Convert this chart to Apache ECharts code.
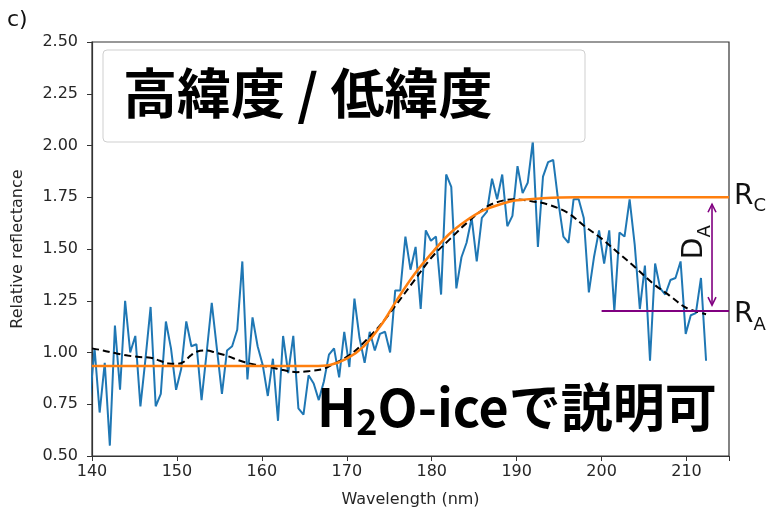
<!DOCTYPE html>
<html><head><meta charset="utf-8">
<script src="https://cdn.jsdelivr.net/npm/echarts@6/dist/echarts.min.js"></script>
<style>html,body{margin:0;padding:0;background:#fff;}#c{width:773px;height:514px;}</style>
</head><body><div id="c"></div>
<script>
// ---------- data ----------
const xTicks = [140, 150, 160, 170, 180, 190, 200, 210];
const xRange = [140, 215];
const yTicks = [0.50, 0.75, 1.00, 1.25, 1.50, 1.75, 2.00, 2.25, 2.50];

// measured spectrum (blue)
const wavelengths = [139.7,
 140.3,140.9,141.5,142.1,142.7,143.3,143.9,144.5,145.1,145.7,
 146.3,146.9,147.5,148.1,148.7,149.3,149.9,150.5,151.1,151.7,
 152.3,152.9,153.5,154.1,154.7,155.3,155.9,156.5,157.1,157.7,
 158.3,158.9,159.5,160.1,160.7,161.3,161.9,162.5,163.1,163.7,
 164.3,164.9,165.5,166.1,166.7,167.3,167.9,168.5,169.1,169.7,
 170.3,170.9,171.5,172.1,172.7,173.3,173.9,174.5,175.1,175.7,
 176.3,176.9,177.5,178.1,178.7,179.3,179.9,180.5,181.1,181.7,
 182.3,182.9,183.5,184.1,184.7,185.3,185.9,186.5,187.1,187.7,
 188.3,188.9,189.5,190.1,190.7,191.3,191.9,192.5,193.1,193.7,
 194.3,194.9,195.5,196.1,196.7,197.3,197.9,198.5,199.1,199.7,
 200.3,200.9,201.5,202.1,202.7,203.3,203.9,204.5,205.1,205.7,
 206.3,206.9,207.5,208.1,208.7,209.3,209.9,210.5,211.1,211.7,
 212.3];
const reflectance = [0.75,
 1.02,0.71,0.95,0.55,1.13,0.82,1.25,1.00,1.08,0.74,
 0.97,1.22,0.74,0.80,1.15,1.02,0.82,0.92,1.15,1.03,
 1.04,0.77,1.00,1.24,1.02,0.80,1.01,1.03,1.11,1.44,
 0.87,1.17,1.03,0.94,0.79,0.97,0.67,1.08,0.90,1.08,
 0.73,0.70,0.89,0.85,0.77,0.86,0.99,1.02,0.88,1.10,
 0.93,1.26,1.07,0.95,1.10,1.01,1.09,1.10,1.00,1.30,
 1.30,1.56,1.40,1.51,1.21,1.59,1.54,1.56,1.28,1.86,
 1.80,1.31,1.46,1.53,1.65,1.44,1.65,1.68,1.84,1.74,
 1.86,1.61,1.66,1.90,1.77,1.82,2.02,1.51,1.85,1.92,
 1.93,1.73,1.56,1.53,1.74,1.74,1.65,1.29,1.46,1.59,
 1.43,1.59,1.20,1.58,1.56,1.74,1.52,1.21,1.42,0.96,
 1.43,1.31,1.28,1.35,1.36,1.44,1.09,1.18,1.19,1.36,
 0.96];

// smoothed spectrum (black dashed)
const smoothX = [140,141.3,142.9,144.2,145.6,146.9,148.0,149.0,150.0,150.8,151.6,152.4,153.5,154.5,155.8,157.8,159.4,160.9,162.5,164.1,165.6,167.2,168.0,170.4,172.3,174.3,175.8,177.8,180.0,182.2,184.1,186.5,188.0,189.6,191.9,193.7,196.0,198.0,200.0,202.0,204.0,206.0,208.0,210.0,212.3];
const smoothY = [1.02,1.01,0.995,0.985,0.978,0.975,0.96,0.947,0.945,0.955,0.985,1.005,1.01,1.0,0.985,0.955,0.94,0.93,0.915,0.905,0.91,0.92,0.935,0.99,1.06,1.15,1.23,1.34,1.46,1.55,1.625,1.705,1.73,1.74,1.73,1.715,1.675,1.61,1.55,1.48,1.41,1.335,1.275,1.215,1.185];

// continuum model (orange)
const fitX = [140,166,168,170,172,174,176,178,180,182,184,186,188,190,193,197,215];
const fitY = [0.935,0.935,0.94,0.97,1.03,1.13,1.26,1.38,1.48,1.57,1.635,1.685,1.715,1.735,1.745,1.75,1.75];

// annotation levels
const rcLevel = 1.75;   // R_C
const raLevel = 1.20;   // R_A
const raStart = 200;    // start of R_A line
const arrowX = 213;     // D_A arrow wavelength

const BLUE = '#1f77b4', ORANGE = '#ff7f0e', PURPLE = '#800080';
const TXT = '#262626';
const LAT = 'DejaVu Sans';
const CJK = '"Noto Sans CJK JP", "Noto Sans CJK SC", sans-serif';

const chart = echarts.init(document.getElementById('c'), null, {renderer: 'canvas'});

const option = {
  animation: false,
  backgroundColor: '#fff',
  grid: {left: 92, right: 44, top: 42, bottom: 58, containLabel: false, show: true,
         borderColor: '#333', borderWidth: 1.2, backgroundColor: 'transparent'},
  xAxis: {
    type: 'value', min: xRange[0], max: xRange[1], interval: 10,
    name: 'Wavelength (nm)', nameLocation: 'middle', nameGap: 36,
    nameTextStyle: {fontFamily: LAT, fontSize: 16, color: TXT},
    axisLine: {show: true, lineStyle: {color: '#333', width: 1.2}},
    axisTick: {show: true, inside: false, length: 5, lineStyle: {color: '#333', width: 1}},
    axisLabel: {fontFamily: LAT, fontSize: 16, color: TXT, margin: 8,
      formatter: v => xTicks.indexOf(Math.round(v)) >= 0 && Math.abs(v - Math.round(v)) < 1e-6 ? String(Math.round(v)) : ''},
    splitLine: {show: false}
  },
  yAxis: {
    type: 'value', min: yTicks[0], max: yTicks[yTicks.length - 1], interval: 0.25,
    name: 'Relative reflectance', nameLocation: 'middle', nameGap: 66,
    nameTextStyle: {fontFamily: LAT, fontSize: 16, color: TXT},
    axisLine: {show: true, lineStyle: {color: '#333', width: 1.2}},
    axisTick: {show: true, inside: false, length: 5, lineStyle: {color: '#333', width: 1}},
    axisLabel: {fontFamily: LAT, fontSize: 16, color: TXT, margin: 14, formatter: v => v.toFixed(2)},
    splitLine: {show: false}
  },
  series: [
    {type: 'line', name: 'spectrum', data: wavelengths.map((w, i) => [w, reflectance[i]]),
     showSymbol: false, symbol: 'none', clip: true, z: 2,
     lineStyle: {color: BLUE, width: 2}},
    {type: 'line', name: 'smooth', data: smoothX.map((w, i) => [w, smoothY[i]]),
     showSymbol: false, symbol: 'none', smooth: 0.35, clip: true, z: 3,
     lineStyle: {color: '#000', width: 2, type: [7, 4]}},
    {type: 'line', name: 'fit', data: fitX.map((w, i) => [w, fitY[i]]),
     showSymbol: false, symbol: 'none', smooth: 0.35, clip: true, z: 4,
     lineStyle: {color: ORANGE, width: 2.5}},
    {type: 'line', name: 'RA', data: [[raStart, raLevel], [xRange[1], raLevel]],
     showSymbol: false, symbol: 'none', clip: true, z: 5,
     lineStyle: {color: PURPLE, width: 2}},
    {type: 'custom', name: 'DA', z: 6,
     data: [[arrowX, raLevel, rcLevel]],
     encode: {x: 0, y: [1, 2]},
     renderItem: function (params, api) {
       const top = api.coord([api.value(0), api.value(2)]);
       const bot = api.coord([api.value(0), api.value(1)]);
       const x = top[0], y1 = top[1] + 7, y2 = bot[1] - 6;
       const st = {stroke: PURPLE, lineWidth: 1.6, fill: null};
       return {type: 'group', children: [
         {type: 'line', shape: {x1: x, y1: y1, x2: x, y2: y2}, style: st},
         {type: 'polyline', shape: {points: [[x - 4, y1 + 8], [x, y1], [x + 4, y1 + 8]]}, style: st},
         {type: 'polyline', shape: {points: [[x - 4, y2 - 8], [x, y2], [x + 4, y2 - 8]]}, style: st}
       ]};
     }}
  ]
};
chart.setOption(option);

// text helpers
const mctx = document.createElement('canvas').getContext('2d');
function tw(text, size, weight, family) {
  mctx.font = (weight || 'normal') + ' ' + size + 'px ' + family;
  return mctx.measureText(text).width;
}
function seq(x, y, parts, extra) {
  const out = [];
  let cx = x;
  parts.forEach(p => {
    out.push(Object.assign({type: 'text', x: cx, y: y + (p.dy || 0), silent: true,
      style: {text: p.t, fontSize: p.s, fontWeight: p.w || 'normal', fontFamily: p.f,
              fill: p.c || '#000', align: 'left', verticalAlign: 'middle'}}, extra || {}));
    cx += tw(p.t, p.s, p.w || 'normal', p.f);
  });
  return out;
}

const pRC = chart.convertToPixel({gridIndex: 0}, [xRange[1], rcLevel]);
const pRA = chart.convertToPixel({gridIndex: 0}, [xRange[1], raLevel]);
const pDA = chart.convertToPixel({gridIndex: 0}, [arrowX, (rcLevel + raLevel) / 2]);

const graphics = [];
// legend-like box
graphics.push({type: 'rect', shape: {x: 103, y: 50, width: 482, height: 92, r: 4}, z: 10,
  style: {fill: 'rgba(255,255,255,0.85)', stroke: '#cfcfcf', lineWidth: 1}});
graphics.push({type: 'text', x: 123, y: 93, z: 11, style: {text: '高緯度 / 低緯度', fontSize: 54, fontWeight: 'bold',
  fontFamily: CJK, fill: '#000', align: 'left', verticalAlign: 'middle'}});
// panel label
graphics.push({type: 'text', x: 7, y: 20, z: 11, style: {text: 'c)', fontSize: 22, fontFamily: LAT, fill: '#111',
  align: 'left', verticalAlign: 'middle'}});
// H2O-ice text
seq(317, 407, [
  {t: 'H', s: 52, w: 'bold', f: CJK},
  {t: '2', s: 36, w: 'bold', f: CJK, dy: 14},
  {t: 'O-iceで説明可', s: 52, w: 'bold', f: CJK}
], {z: 12}).forEach(g => graphics.push(g));
// R_C, R_A
seq(pRC[0] + 5, pRC[1] - 1, [
  {t: 'R', s: 28, f: LAT, c: '#111'},
  {t: 'C', s: 18, f: LAT, c: '#111', dy: 10}
], {z: 12}).forEach(g => graphics.push(g));
seq(pRA[0] + 5, pRA[1] + 4, [
  {t: 'R', s: 28, f: LAT, c: '#111'},
  {t: 'A', s: 18, f: LAT, c: '#111', dy: 10}
], {z: 12}).forEach(g => graphics.push(g));
// D_A rotated
const dW = tw('D', 28, 'normal', LAT);
graphics.push({type: 'group', x: pDA[0] - 17, y: pDA[1] + 5, rotation: Math.PI / 2, z: 12, children: [
  {type: 'text', x: 0, y: 0, style: {text: 'D', fontSize: 28, fontFamily: LAT, fill: '#111', align: 'left', verticalAlign: 'middle'}},
  {type: 'text', x: dW, y: 10, style: {text: 'A', fontSize: 18, fontFamily: LAT, fill: '#111', align: 'left', verticalAlign: 'middle'}}
]});

chart.setOption({graphic: graphics});
</script>
</body></html>
